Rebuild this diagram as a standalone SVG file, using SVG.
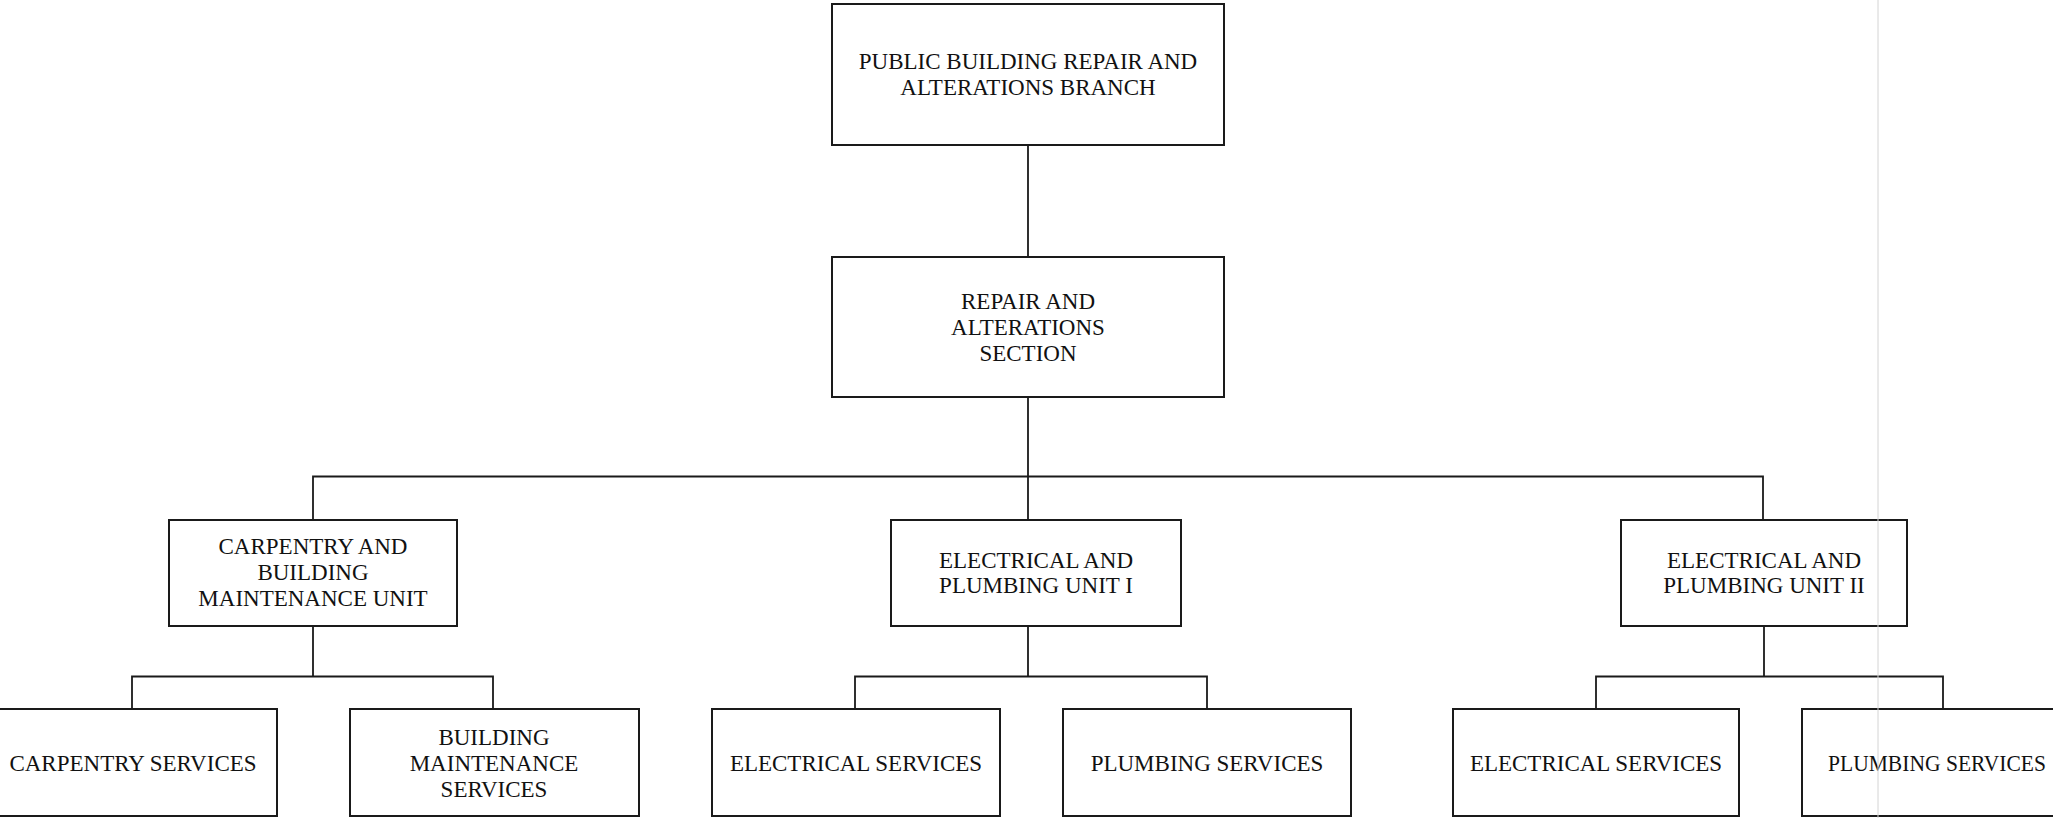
<svg xmlns="http://www.w3.org/2000/svg" width="2053" height="818" viewBox="0 0 2053 818">
<style>
.box{fill:#fff;stroke:#1a1a1a;stroke-width:2}
.ln{fill:none;stroke:#1a1a1a;stroke-width:1.8}
text{font-family:"Liberation Serif","Times New Roman",serif;font-size:23px;fill:#111;text-anchor:middle}
</style>
<rect width="2053" height="818" fill="#fff"/>
<g id="connectors">
<path class="ln" d="M1028 145V257M1028 397V476.5M313 520V476.5H1763V520M1028 476.5V520"/>
<path class="ln" d="M313 626V676.5M132 709V676.5H493V709"/>
<path class="ln" d="M1028 626V676.5M855 709V676.5H1207V709"/>
<path class="ln" d="M1764 626V676.5M1596 709V676.5H1943V709"/>
</g>
<g id="branch">
<rect class="box" x="832" y="4" width="392" height="141"/>
<text x="1028" y="69">PUBLIC BUILDING REPAIR AND</text>
<text x="1028" y="95">ALTERATIONS BRANCH</text>
</g>
<g id="section">
<rect class="box" x="832" y="257" width="392" height="140"/>
<text x="1028" y="309">REPAIR AND</text>
<text x="1028" y="335">ALTERATIONS</text>
<text x="1028" y="361">SECTION</text>
</g>
<g id="carpentry-unit">
<rect class="box" x="169" y="520" width="288" height="106"/>
<text x="313" y="554">CARPENTRY AND</text>
<text x="313" y="580">BUILDING</text>
<text x="313" y="606">MAINTENANCE UNIT</text>
</g>
<g id="ep-unit-1">
<rect class="box" x="891" y="520" width="290" height="106"/>
<text x="1036" y="568">ELECTRICAL AND</text>
<text x="1036" y="593">PLUMBING UNIT I</text>
</g>
<g id="ep-unit-2">
<rect class="box" x="1621" y="520" width="286" height="106"/>
<text x="1764" y="568">ELECTRICAL AND</text>
<text x="1764" y="593">PLUMBING UNIT II</text>
</g>
<g id="carpentry-services">
<rect class="box" x="-2" y="709" width="279" height="107"/>
<text x="133" y="771">CARPENTRY SERVICES</text>
</g>
<g id="building-maintenance-services">
<rect class="box" x="350" y="709" width="289" height="107"/>
<text x="494" y="745">BUILDING</text>
<text x="494" y="771">MAINTENANCE</text>
<text x="494" y="797">SERVICES</text>
</g>
<g id="electrical-services-1">
<rect class="box" x="712" y="709" width="288" height="107"/>
<text x="856" y="771">ELECTRICAL SERVICES</text>
</g>
<g id="plumbing-services-1">
<rect class="box" x="1063" y="709" width="288" height="107"/>
<text x="1207" y="771">PLUMBING SERVICES</text>
</g>
<g id="electrical-services-2">
<rect class="box" x="1453" y="709" width="286" height="107"/>
<text x="1596" y="771">ELECTRICAL SERVICES</text>
</g>
<g id="plumbing-services-2">
<rect class="box" x="1802" y="709" width="290" height="107"/>
<text x="1828" y="771" style="text-anchor:start" textLength="218" lengthAdjust="spacingAndGlyphs">PLUMBING SERVICES</text>
</g>
<line x1="1878" y1="0" x2="1878" y2="818" stroke="#d4d4d4" stroke-width="1"/>
</svg>
